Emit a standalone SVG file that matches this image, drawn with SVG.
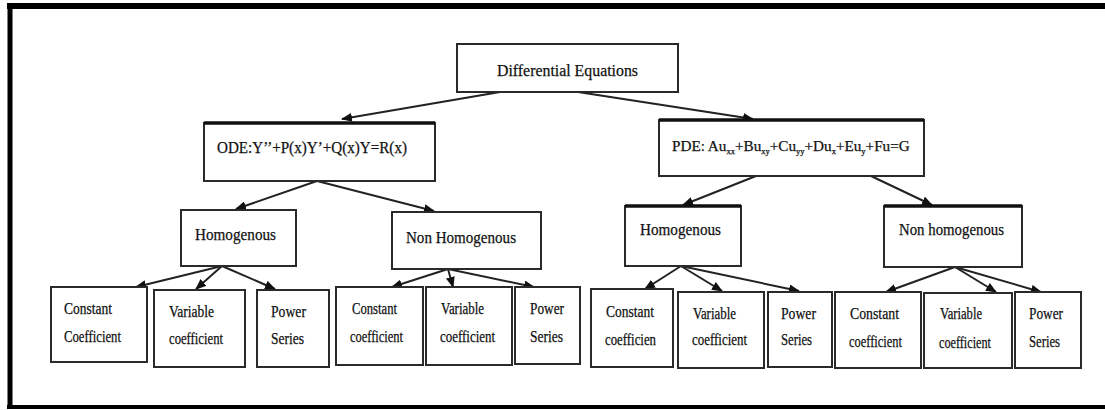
<svg xmlns="http://www.w3.org/2000/svg" width="1105" height="410" viewBox="0 0 1105 410">
<style>
.box{fill:#fff;stroke:#2a2a2a;stroke-width:2}
.thick{stroke:#111;stroke-width:3.5}
.t{font-family:"Liberation Serif","Times New Roman",serif;fill:#111;stroke:#111;stroke-width:0.25}
.m{font-size:17px}
.p{font-size:15.2px}
.s{font-size:16px}
.c{stroke:#222;stroke-width:2;fill:none;marker-end:url(#ah)}
.sub{font-size:8.5px}
</style>
<defs>
<marker id="ah" markerUnits="userSpaceOnUse" markerWidth="11" markerHeight="9" refX="10" refY="4.5" orient="auto">
<path d="M0,0 L11,4.5 L0,9 z" fill="#111"/>
</marker>
</defs>
<rect x="0" y="0" width="1105" height="410" fill="#fff"/>
<g id="frame" stroke="#000" fill="none">
<line x1="7" y1="6" x2="1105" y2="6" stroke-width="6"/>
<line x1="10" y1="3" x2="10" y2="409" stroke-width="5"/>
<line x1="7" y1="407" x2="1105" y2="407" stroke-width="4"/>
</g>
<g id="connectors">
<line class="c" x1="500" y1="92" x2="342" y2="119"/>
<line class="c" x1="578" y1="92" x2="753" y2="119"/>
<line class="c" x1="317" y1="181" x2="236" y2="209"/>
<line class="c" x1="317" y1="181" x2="434" y2="211"/>
<line class="c" x1="756" y1="176" x2="683" y2="205"/>
<line class="c" x1="871" y1="176" x2="932" y2="205"/>
<line class="c" x1="222" y1="266" x2="136" y2="287"/>
<line class="c" x1="222" y1="266" x2="196" y2="289"/>
<line class="c" x1="222" y1="266" x2="275" y2="289"/>
<line class="c" x1="448" y1="269" x2="392" y2="287"/>
<line class="c" x1="448" y1="269" x2="453" y2="287"/>
<line class="c" x1="448" y1="269" x2="534" y2="287"/>
<line class="c" x1="681" y1="266" x2="645" y2="289"/>
<line class="c" x1="681" y1="266" x2="722" y2="291"/>
<line class="c" x1="681" y1="266" x2="799" y2="291"/>
<line class="c" x1="955" y1="267" x2="886" y2="292"/>
<line class="c" x1="955" y1="267" x2="996" y2="292"/>
<line class="c" x1="955" y1="267" x2="1041" y2="292"/>
</g>
<g id="root">
<rect class="box" x="457" y="44" width="221" height="48"/>
<text class="t m" x="497" y="76" textLength="141" lengthAdjust="spacingAndGlyphs">Differential Equations</text>
</g>
<g id="ode">
<rect class="box" x="204" y="123" width="231" height="58"/>
<line class="thick" x1="204" y1="123" x2="435" y2="123"/>
<text class="t m" x="217" y="153" textLength="190" lengthAdjust="spacingAndGlyphs">ODE:Y’’+P(x)Y’+Q(x)Y=R(x)</text>
</g>
<g id="pde">
<rect class="box" x="659" y="120" width="265" height="56"/>
<line class="thick" x1="659" y1="120" x2="924" y2="120"/>
<text class="t p" x="672" y="151">PDE: Au<tspan class="sub" dy="3">xx</tspan><tspan dy="-3">+Bu</tspan><tspan class="sub" dy="3">xy</tspan><tspan dy="-3">+Cu</tspan><tspan class="sub" dy="3">yy</tspan><tspan dy="-3">+Du</tspan><tspan class="sub" dy="3">x</tspan><tspan dy="-3">+Eu</tspan><tspan class="sub" dy="3">y</tspan><tspan dy="-3">+Fu=G</tspan></text>
</g>
<g id="ode-hom">
<rect class="box" x="181" y="210" width="115" height="56"/>
<text class="t m" x="195" y="240" textLength="81" lengthAdjust="spacingAndGlyphs">Homogenous</text>
</g>
<g id="ode-nonhom">
<rect class="box" x="392" y="212" width="149" height="57"/>
<text class="t m" x="406" y="243" textLength="110" lengthAdjust="spacingAndGlyphs">Non Homogenous</text>
</g>
<g id="pde-hom">
<rect class="box" x="625" y="206" width="116" height="60"/>
<line class="thick" x1="625" y1="206" x2="741" y2="206"/>
<text class="t m" x="640" y="235" textLength="81" lengthAdjust="spacingAndGlyphs">Homogenous</text>
</g>
<g id="pde-nonhom">
<rect class="box" x="884" y="206" width="138" height="61"/>
<line class="thick" x1="884" y1="206" x2="1022" y2="206"/>
<text class="t m" x="899" y="235" textLength="105" lengthAdjust="spacingAndGlyphs">Non homogenous</text>
</g>
<g id="b1">
<rect class="box" x="51" y="287" width="96" height="75"/>
<text class="t s" x="64" y="314" textLength="48" lengthAdjust="spacingAndGlyphs">Constant</text>
<text class="t s" x="64" y="342" textLength="57" lengthAdjust="spacingAndGlyphs">Coefficient</text>
</g>
<g id="b2">
<rect class="box" x="154" y="290" width="91" height="77"/>
<text class="t s" x="169" y="317" textLength="45" lengthAdjust="spacingAndGlyphs">Variable</text>
<text class="t s" x="169" y="344" textLength="54" lengthAdjust="spacingAndGlyphs">coefficient</text>
</g>
<g id="b3">
<rect class="box" x="257" y="290" width="72" height="77"/>
<text class="t s" x="271" y="317" textLength="35" lengthAdjust="spacingAndGlyphs">Power</text>
<text class="t s" x="271" y="344" textLength="33" lengthAdjust="spacingAndGlyphs">Series</text>
</g>
<g id="b4">
<rect class="box" x="336" y="287" width="87" height="78"/>
<text class="t s" x="352" y="314" textLength="45" lengthAdjust="spacingAndGlyphs">Constant</text>
<text class="t s" x="350" y="342" textLength="53" lengthAdjust="spacingAndGlyphs">coefficient</text>
</g>
<g id="b5">
<rect class="box" x="426" y="287" width="86" height="78"/>
<text class="t s" x="441" y="314" textLength="43" lengthAdjust="spacingAndGlyphs">Variable</text>
<text class="t s" x="440" y="342" textLength="55" lengthAdjust="spacingAndGlyphs">coefficient</text>
</g>
<g id="b6">
<rect class="box" x="515" y="287" width="65" height="77"/>
<text class="t s" x="530" y="314" textLength="34" lengthAdjust="spacingAndGlyphs">Power</text>
<text class="t s" x="530" y="342" textLength="33" lengthAdjust="spacingAndGlyphs">Series</text>
</g>
<g id="b7">
<rect class="box" x="591" y="289" width="82" height="78"/>
<text class="t s" x="606" y="317" textLength="48" lengthAdjust="spacingAndGlyphs">Constant</text>
<text class="t s" x="605" y="345" textLength="51" lengthAdjust="spacingAndGlyphs">coefficien</text>
</g>
<g id="b8">
<rect class="box" x="678" y="292" width="86" height="76"/>
<text class="t s" x="693" y="319" textLength="43" lengthAdjust="spacingAndGlyphs">Variable</text>
<text class="t s" x="692" y="345" textLength="55" lengthAdjust="spacingAndGlyphs">coefficient</text>
</g>
<g id="b9">
<rect class="box" x="768" y="292" width="64" height="75"/>
<text class="t s" x="781" y="319" textLength="35" lengthAdjust="spacingAndGlyphs">Power</text>
<text class="t s" x="781" y="345" textLength="31" lengthAdjust="spacingAndGlyphs">Series</text>
</g>
<g id="b10">
<rect class="box" x="835" y="292" width="86" height="76"/>
<text class="t s" x="850" y="319" textLength="49" lengthAdjust="spacingAndGlyphs">Constant</text>
<text class="t s" x="849" y="347" textLength="53" lengthAdjust="spacingAndGlyphs">coefficient</text>
</g>
<g id="b11">
<rect class="box" x="924" y="293" width="88" height="75"/>
<text class="t s" x="940" y="319" textLength="42" lengthAdjust="spacingAndGlyphs">Variable</text>
<text class="t s" x="939" y="348" textLength="52" lengthAdjust="spacingAndGlyphs">coefficient</text>
</g>
<g id="b12">
<rect class="box" x="1015" y="292" width="66" height="76"/>
<text class="t s" x="1029" y="319" textLength="34" lengthAdjust="spacingAndGlyphs">Power</text>
<text class="t s" x="1029" y="347" textLength="31" lengthAdjust="spacingAndGlyphs">Series</text>
</g>
</svg>
